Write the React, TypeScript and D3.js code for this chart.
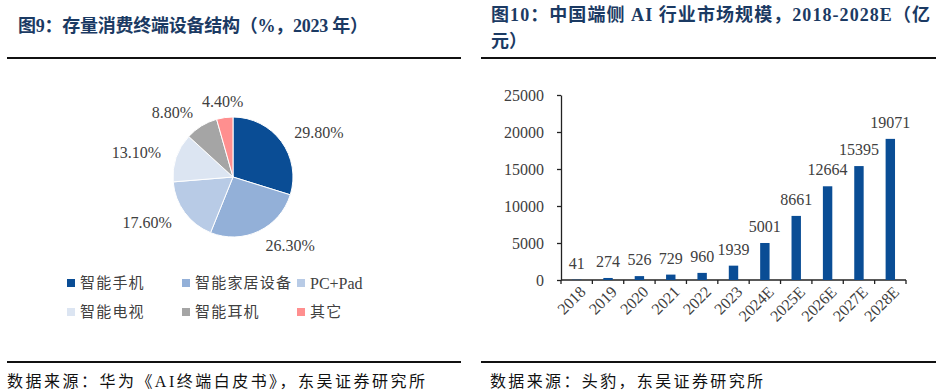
import * as React from 'react'
import * as d3 from 'd3'

// left: installed base structure of consumer devices (2023)
const pieCategories = ['智能手机', '智能家居设备', 'PC+Pad', '智能电视', '智能耳机', '其它']
const pieValues = [29.8, 26.3, 17.6, 13.1, 8.8, 4.4]
const pieColors = ['#0a4d95', '#93b0d8', '#b8cbe6', '#dce5f2', '#a5a5a5', '#ff8f8f']

// right: on-device AI market size in China (亿元)
const years = ['2018', '2019', '2020', '2021', '2022', '2023', '2024E', '2025E', '2026E', '2027E', '2028E']
const marketSize = [41, 274, 526, 729, 960, 1939, 5001, 8661, 12664, 15395, 19071]
const yTicks = [0, 5000, 10000, 15000, 20000, 25000]

const leftTitle = '图9：存量消费终端设备结构（%，2023 年）'
const rightTitle = ['图10：中国端侧 AI 行业市场规模，2018-2028E（亿', '元）']
const leftSource = '数据来源：华为《AI终端白皮书》，东吴证券研究所'
const rightSource = '数据来源：头豹，东吴证券研究所'

const FONT = '"Liberation Serif", "Noto Sans CJK SC", serif'
const TITLE_COLOR = '#1b3a63'
const TEXT_COLOR = '#404040'
const BAR_COLOR = '#0a4d95'

export default function App() {
    const ref = React.useRef<SVGSVGElement | null>(null)

    React.useEffect(() => {
        if (!ref.current)
            return
        const svg = d3.select(ref.current)
        svg.selectAll('*').remove()
        svg.attr('font-family', FONT)

        // titles + rules
        svg.append('text')
            .attr('x', 18).attr('y', 32)
            .attr('font-size', 18).attr('font-weight', 'bold')
            .attr('fill', TITLE_COLOR)
            .attr('textLength', 350).attr('lengthAdjust', 'spacing')
            .text(leftTitle)
        svg.append('text')
            .attr('x', 491).attr('y', 21)
            .attr('font-size', 18).attr('font-weight', 'bold')
            .attr('fill', TITLE_COLOR)
            .attr('textLength', 439).attr('lengthAdjust', 'spacing')
            .text(rightTitle[0])
        svg.append('text')
            .attr('x', 491).attr('y', 47)
            .attr('font-size', 18).attr('font-weight', 'bold')
            .attr('fill', TITLE_COLOR)
            .text(rightTitle[1])

        const rules = [[7, 461], [481, 936]]
        for (const [x1, x2] of rules) {
            svg.append('line').attr('x1', x1).attr('x2', x2).attr('y1', 58).attr('y2', 58)
                .attr('stroke', '#111').attr('stroke-width', 2)
            svg.append('line').attr('x1', x1).attr('x2', x2).attr('y1', 362).attr('y2', 362)
                .attr('stroke', '#111').attr('stroke-width', 2)
        }

        // sources
        svg.append('text')
            .attr('x', 7).attr('y', 387)
            .attr('font-size', 16).attr('fill', '#111')
            .attr('textLength', 418).attr('lengthAdjust', 'spacing')
            .text(leftSource)
        svg.append('text')
            .attr('x', 490).attr('y', 387)
            .attr('font-size', 16).attr('fill', '#111')
            .attr('textLength', 273).attr('lengthAdjust', 'spacing')
            .text(rightSource)

        // ---- pie
        const radius = 60
        const pieG = svg.append('g').attr('transform', 'translate(233,177)')
        const pie = d3.pie<number>().sort(null)
        const arcs = pie(pieValues)
        const arc = d3.arc<d3.PieArcDatum<number>>().innerRadius(0).outerRadius(radius)
        const labelArc = d3.arc<d3.PieArcDatum<number>>().innerRadius(76).outerRadius(76)
        const anchorFor = (d: d3.PieArcDatum<number>) => {
            const cx = labelArc.centroid(d)[0]
            if (Math.abs(cx) < 15) return 'middle'
            return cx >= 0 ? 'start' : 'end'
        }

        pieG.selectAll('path.slice')
            .data(arcs)
            .enter().append('path')
            .attr('class', 'slice')
            .attr('d', arc)
            .attr('fill', (d, i) => pieColors[i])
            .attr('stroke', '#fff')
            .attr('stroke-width', 1)

        pieG.selectAll('text.pct')
            .data(arcs)
            .enter().append('text')
            .attr('class', 'pct')
            .attr('x', d => labelArc.centroid(d)[0])
            .attr('y', d => labelArc.centroid(d)[1])
            .attr('dy', '0.35em')
            .attr('text-anchor', anchorFor)
            .attr('font-size', 16)
            .attr('fill', TEXT_COLOR)
            .text(d => d.data.toFixed(2) + '%')

        // legend
        const legend = svg.append('g')
        pieCategories.forEach((name, i) => {
            const lx = 67 + (i % 3) * 115
            const ly = 283 + Math.floor(i / 3) * 29
            legend.append('rect')
                .attr('x', lx).attr('y', ly - 4)
                .attr('width', 8).attr('height', 8)
                .attr('fill', pieColors[i])
            legend.append('text')
                .attr('x', lx + 13).attr('y', ly)
                .attr('dy', '0.36em')
                .attr('font-size', name === 'PC+Pad' ? 16 : 15)
                .attr('letter-spacing', name === 'PC+Pad' ? 0 : 1.2)
                .attr('fill', TEXT_COLOR)
                .text(name)
        })

        // ---- bars
        const plot = { left: 561, right: 906, top: 95, bottom: 280 }
        const x = d3.scaleBand<string>().domain(years).range([plot.left, plot.right]).padding(0)
        const y = d3.scaleLinear().domain([0, 25000]).range([plot.bottom, plot.top])
        const barW = x.bandwidth() * 0.3

        const yAxis = svg.append('g')
            .attr('transform', `translate(${plot.left},0)`)
            .call(d3.axisLeft(y).tickValues(yTicks).tickSize(4).tickSizeOuter(0).tickPadding(13).tickFormat(d3.format('d')))
        yAxis.select('.domain').attr('stroke', '#222').attr('stroke-width', 1.3)
        yAxis.selectAll('.tick line').attr('stroke', '#222').attr('stroke-width', 1.3)
        yAxis.selectAll('.tick text')
            .attr('font-size', 16).attr('font-family', FONT).attr('fill', TEXT_COLOR)

        // x axis with ticks at category boundaries
        const xg = svg.append('g')
        xg.append('line')
            .attr('x1', plot.left).attr('x2', plot.right)
            .attr('y1', plot.bottom).attr('y2', plot.bottom)
            .attr('stroke', '#222').attr('stroke-width', 1.3)
        const boundaries = years.map(d => x(d) as number).concat([plot.right])
        xg.selectAll('line.tick')
            .data(boundaries)
            .enter().append('line')
            .attr('class', 'tick')
            .attr('x1', d => d).attr('x2', d => d)
            .attr('y1', plot.bottom).attr('y2', plot.bottom + 4)
            .attr('stroke', '#222').attr('stroke-width', 1.3)
        xg.selectAll('text')
            .data(years)
            .enter().append('text')
            .attr('transform', d => `translate(${(x(d) as number) + x.bandwidth() / 2 + 6},${plot.bottom + 9}) rotate(-45)`)
            .attr('text-anchor', 'end')
            .attr('dy', '0.35em')
            .attr('font-size', 16)
            .attr('fill', TEXT_COLOR)
            .text(d => d)

        svg.selectAll('rect.bar')
            .data(marketSize)
            .enter().append('rect')
            .attr('class', 'bar')
            .attr('x', (d, i) => (x(years[i]) as number) + (x.bandwidth() - barW) / 2)
            .attr('y', d => y(d))
            .attr('width', barW)
            .attr('height', d => plot.bottom - y(d))
            .attr('fill', BAR_COLOR)

        svg.selectAll('text.value')
            .data(marketSize)
            .enter().append('text')
            .attr('class', 'value')
            .attr('x', (d, i) => (x(years[i]) as number) + x.bandwidth() / 2)
            .attr('y', d => y(d) - 11)
            .attr('text-anchor', 'middle')
            .attr('font-size', 16)
            .attr('fill', TEXT_COLOR)
            .text(d => String(d))
    }, [])

    return (
        <div style={{ position: 'absolute', left: 0, top: 0 }}>
            <svg ref={ref} width={946} height={392} style={{ display: 'block', background: '#fff' }} />
        </div>
    )
}
